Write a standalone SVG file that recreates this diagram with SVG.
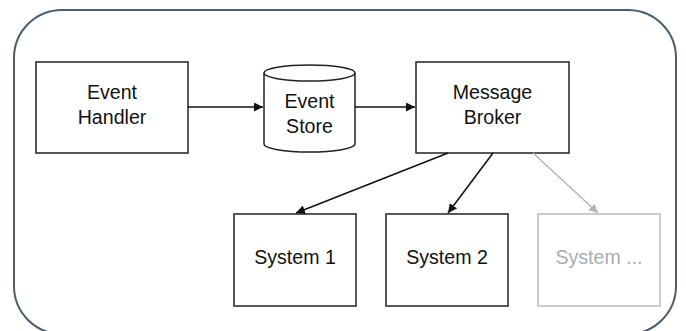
<svg xmlns="http://www.w3.org/2000/svg" width="686" height="331" viewBox="0 0 686 331">
<style>
.box{fill:#fff;stroke:#222;stroke-width:1.5}
.ghost{fill:#fff;stroke:#b8bcbf;stroke-width:1.5}
.t{font-family:"Liberation Sans",Arial,sans-serif;font-size:19.6px;fill:#111;text-anchor:middle}
.tg{font-family:"Liberation Sans",Arial,sans-serif;font-size:19.6px;fill:#a9adb0;text-anchor:middle}
.c{fill:none;stroke:#111;stroke-width:1.5}
.cg{fill:none;stroke:#b3b7ba;stroke-width:1.5}
</style>
<defs>
<marker id="ah" viewBox="0 0 10 10" refX="10" refY="5" markerWidth="9" markerHeight="9" markerUnits="userSpaceOnUse" orient="auto"><path d="M0,0 L10,5 L0,10 z" fill="#111"/></marker>
<marker id="ahg" viewBox="0 0 10 10" refX="10" refY="5" markerWidth="9" markerHeight="9" markerUnits="userSpaceOnUse" orient="auto"><path d="M0,0 L10,5 L0,10 z" fill="#b3b7ba"/></marker>
</defs>
<rect width="686" height="331" fill="#fff"/>
<rect id="frame" x="14" y="10" width="662" height="324" rx="48" ry="48" fill="none" stroke="#4b5e6b" stroke-width="2"/>
<g id="event-handler">
<rect class="box" x="36" y="62" width="152" height="91"/>
<text class="t" x="112" y="99">Event</text>
<text class="t" x="112" y="124">Handler</text>
</g>
<g id="event-store">
<path class="box" d="M264,73 A45.5,8 0 0 1 355,73 L355,144 A45.5,8 0 0 1 264,144 Z"/>
<path class="box" d="M264,73 A45.5,8 0 0 0 355,73" fill="none"/>
<text class="t" x="309.5" y="108">Event</text>
<text class="t" x="309.5" y="133">Store</text>
</g>
<g id="message-broker">
<rect class="box" x="416" y="62" width="153" height="91"/>
<text class="t" x="492.5" y="99">Message</text>
<text class="t" x="492.5" y="124">Broker</text>
</g>
<g id="system-1">
<rect class="box" x="234" y="214" width="122" height="92"/>
<text class="t" x="295" y="264">System 1</text>
</g>
<g id="system-2">
<rect class="box" x="386" y="214" width="122" height="92"/>
<text class="t" x="447" y="264">System 2</text>
</g>
<g id="system-n">
<rect class="ghost" x="538" y="214" width="122" height="92"/>
<text class="tg" x="599" y="264">System ...</text>
</g>
<g id="connectors">
<line class="c" x1="188" y1="107" x2="263" y2="107" marker-end="url(#ah)"/>
<line class="c" x1="355" y1="107" x2="415" y2="107" marker-end="url(#ah)"/>
<line class="c" x1="448" y1="153" x2="296" y2="213" marker-end="url(#ah)"/>
<line class="c" x1="493" y1="153" x2="448" y2="213" marker-end="url(#ah)"/>
<line class="cg" x1="533" y1="153" x2="598" y2="213" marker-end="url(#ahg)"/>
</g>
</svg>
